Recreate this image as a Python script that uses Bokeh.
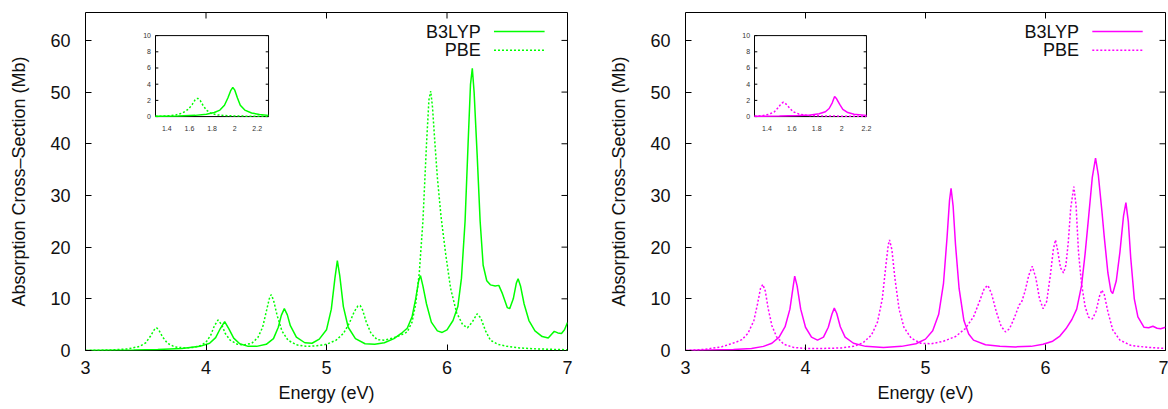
from bokeh.plotting import figure
from bokeh.models import Range1d, FixedTicker
from bokeh.layouts import row
from bokeh.embed import file_html
from bokeh.resources import INLINE
from bokeh.core.properties import value

# ---------------- data ----------------
# Left panel (green)
left_b3lyp_e = [3.00, 3.20, 3.40, 3.60, 3.80, 3.95, 4.03, 4.08, 4.12, 4.155, 4.19, 4.23, 4.28, 4.35, 4.42,
                4.50, 4.56, 4.60, 4.625, 4.65, 4.675, 4.70, 4.75, 4.82, 4.88, 4.94, 5.00, 5.04, 5.07, 5.09,
                5.11, 5.14, 5.18, 5.24, 5.32, 5.40, 5.48, 5.56, 5.62, 5.67, 5.71, 5.74, 5.765, 5.78, 5.80,
                5.83, 5.87, 5.92, 5.96, 6.00, 6.05, 6.09, 6.12, 6.15, 6.175, 6.195, 6.21, 6.225, 6.25, 6.275,
                6.30, 6.33, 6.36, 6.40, 6.43, 6.46, 6.50, 6.52, 6.55, 6.575, 6.59, 6.61, 6.64, 6.68, 6.73,
                6.79, 6.84, 6.87, 6.89, 6.92, 6.95, 6.975, 7.00]
left_b3lyp_i = [0.0, 0.05, 0.1, 0.2, 0.4, 0.8, 1.4, 2.5, 4.3, 5.6, 4.2, 2.4, 1.3, 0.8, 0.8,
                1.2, 2.3, 4.5, 6.8, 8.1, 6.9, 4.8, 2.6, 1.5, 1.4, 2.2, 4.0, 8.0, 14.0, 17.4,
                14.5, 8.5, 4.5, 2.3, 1.3, 1.2, 1.5, 2.3, 3.3, 4.3, 6.5, 10.0, 13.5, 14.5, 12.5,
                9.0, 5.5, 3.8, 3.5, 4.0, 5.8, 8.5, 14.0, 25.0, 40.0, 51.5, 54.6, 50.0, 38.0, 25.0,
                16.5, 13.5, 12.7, 12.5, 12.6, 11.0, 8.3, 8.1, 10.0, 13.0, 13.9, 12.5, 9.0, 5.8, 3.8,
                2.7, 2.4, 3.2, 3.7, 3.4, 3.3, 4.0, 5.4]
left_pbe_e = [3.00, 3.20, 3.35, 3.45, 3.50, 3.54, 3.57, 3.59, 3.61, 3.64, 3.68, 3.74, 3.82, 3.90, 3.96,
              4.00, 4.04, 4.07, 4.10, 4.13, 4.16, 4.20, 4.26, 4.32, 4.38, 4.43, 4.47, 4.50, 4.525, 4.54,
              4.56, 4.59, 4.63, 4.68, 4.75, 4.83, 4.92, 5.00, 5.08, 5.14, 5.19, 5.23, 5.26, 5.28, 5.30,
              5.33, 5.37, 5.42, 5.48, 5.55, 5.62, 5.67, 5.71, 5.74, 5.77, 5.80, 5.83, 5.85, 5.865, 5.88,
              5.90, 5.92, 5.95, 5.99, 6.03, 6.08, 6.13, 6.17, 6.21, 6.25, 6.28, 6.32, 6.36, 6.42, 6.50,
              6.60, 6.75, 7.00]
left_pbe_i = [0.0, 0.1, 0.3, 0.8, 1.5, 2.8, 4.0, 4.4, 3.9, 2.6, 1.4, 0.7, 0.5, 0.6, 1.0,
              1.6, 3.0, 4.8, 5.9, 5.0, 3.3, 2.0, 1.2, 1.1, 1.4, 2.5, 4.5, 7.5, 10.0, 10.8,
              9.8, 6.8, 3.8, 2.0, 1.1, 0.8, 0.9, 1.2, 2.0, 3.3, 5.3, 7.5, 8.6, 8.7, 7.8,
              5.5, 3.3, 2.1, 2.0, 2.4, 3.0, 3.6, 5.5, 9.0, 15.0, 25.0, 40.0, 48.5, 50.2, 47.0,
              40.0, 33.5, 26.0, 18.5, 12.0, 7.3, 5.0, 4.4, 5.5, 7.1, 6.3, 3.8, 2.0, 1.2, 0.8,
              0.5, 0.3, 0.15]

# Right panel (magenta)
right_b3lyp_e = [3.00, 3.20, 3.40, 3.55, 3.65, 3.72, 3.78, 3.83, 3.87, 3.895, 3.91, 3.93, 3.96, 4.00, 4.05,
                 4.10, 4.15, 4.19, 4.22, 4.24, 4.26, 4.29, 4.33, 4.40, 4.50, 4.65, 4.80, 4.92, 5.00, 5.06,
                 5.11, 5.15, 5.18, 5.20, 5.213, 5.23, 5.25, 5.28, 5.32, 5.36, 5.40, 5.50, 5.62, 5.75, 5.88,
                 5.98, 6.06, 6.12, 6.17, 6.22, 6.26, 6.30, 6.33, 6.36, 6.39, 6.417, 6.44, 6.47, 6.49, 6.52,
                 6.545, 6.56, 6.59, 6.62, 6.65, 6.67, 6.69, 6.71, 6.74, 6.77, 6.82, 6.86, 6.895, 6.93, 6.96,
                 7.00]
right_b3lyp_i = [0.0, 0.1, 0.2, 0.4, 0.8, 1.4, 2.6, 4.6, 8.0, 12.0, 14.4, 12.5, 8.0, 4.5, 2.6,
                 2.0, 2.6, 4.5, 7.0, 8.2, 7.2, 4.6, 2.6, 1.4, 0.8, 0.6, 0.8, 1.3, 2.2, 3.8,
                 7.0, 13.0, 22.0, 29.0, 31.4, 28.0, 20.5, 12.0, 5.8, 3.2, 2.0, 1.1, 0.8, 0.7, 0.8,
                 1.2, 1.8, 2.8, 4.2, 6.0, 8.0, 12.5, 18.7, 26.0, 33.5, 37.2, 34.0, 27.0, 21.9, 15.0,
                 11.5, 11.0, 13.5, 19.0, 26.0, 28.6, 25.0, 18.0, 10.0, 6.5, 4.5, 4.4, 4.7, 4.3, 4.2,
                 4.5]
right_pbe_e = [3.00, 3.15, 3.30, 3.38, 3.42, 3.47, 3.52, 3.57, 3.60, 3.625, 3.644, 3.665, 3.69, 3.72, 3.76,
               3.82, 3.90, 4.00, 4.15, 4.30, 4.40, 4.48, 4.55, 4.60, 4.64, 4.67, 4.69, 4.70, 4.72, 4.745,
               4.78, 4.82, 4.88, 4.96, 5.05, 5.15, 5.25, 5.33, 5.40, 5.45, 5.49, 5.52, 5.55, 5.59, 5.63,
               5.667, 5.70, 5.74, 5.78, 5.80, 5.83, 5.86, 5.89, 5.92, 5.95, 5.98, 6.01, 6.04, 6.065, 6.083,
               6.10, 6.125, 6.15, 6.17, 6.19, 6.21, 6.236, 6.255, 6.275, 6.30, 6.33, 6.36, 6.39, 6.42, 6.45,
               6.47, 6.49, 6.52, 6.56, 6.62, 6.71, 6.85, 7.00]
right_pbe_i = [0.0, 0.2, 0.7, 1.3, 1.6, 2.1, 3.3, 5.8, 9.0, 12.0, 12.8, 11.5, 8.0, 4.8, 2.6,
               1.2, 0.6, 0.4, 0.4, 0.5, 0.8, 1.5, 3.0, 5.5, 10.0, 16.5, 20.5, 21.4, 19.5, 14.0,
               8.0, 4.5, 2.4, 1.4, 1.3, 1.8, 2.7, 4.2, 6.5, 9.5, 12.0, 12.6, 11.0, 7.5, 4.7,
               3.6, 4.2, 6.3, 8.8, 9.3, 11.5, 14.5, 16.3, 14.0, 10.0, 8.1, 9.5, 14.5, 19.5, 21.4,
               19.5, 16.0, 15.0, 16.5, 21.0, 27.5, 31.7, 28.0, 19.0, 13.0, 8.5, 6.4, 6.1, 7.5, 10.5,
               11.7, 10.8, 7.5, 4.0, 2.0, 1.0, 0.6, 0.4]

# Insets
left_inset_b3lyp_e = [1.30, 1.50, 1.65, 1.75, 1.82, 1.87, 1.91, 1.94, 1.965, 1.984, 2.00, 2.025, 2.05, 2.09, 2.15, 2.22, 2.30]
left_inset_b3lyp_i = [0.05, 0.08, 0.15, 0.3, 0.5, 0.8, 1.4, 2.3, 3.2, 3.6, 3.3, 2.3, 1.4, 0.8, 0.45, 0.25, 0.15]
left_inset_pbe_e = [1.30, 1.40, 1.48, 1.54, 1.59, 1.625, 1.65, 1.673, 1.695, 1.72, 1.75, 1.79, 1.85, 1.95, 2.10, 2.30]
left_inset_pbe_i = [0.03, 0.08, 0.2, 0.45, 0.9, 1.5, 2.05, 2.26, 2.0, 1.4, 0.8, 0.4, 0.2, 0.1, 0.05, 0.03]
right_inset_b3lyp_e = [1.30, 1.50, 1.65, 1.75, 1.82, 1.87, 1.90, 1.925, 1.944, 1.96, 1.985, 2.01, 2.05, 2.10, 2.20]
right_inset_b3lyp_i = [0.03, 0.06, 0.12, 0.2, 0.35, 0.6, 1.0, 1.7, 2.47, 2.2, 1.5, 0.9, 0.5, 0.3, 0.15]
right_inset_pbe_e = [1.30, 1.36, 1.42, 1.46, 1.49, 1.515, 1.532, 1.55, 1.58, 1.61, 1.66, 1.72, 1.85, 2.00, 2.20]
right_inset_pbe_i = [0.05, 0.1, 0.3, 0.6, 1.1, 1.6, 1.77, 1.6, 1.1, 0.6, 0.3, 0.15, 0.08, 0.05, 0.03]

x_ticks = [3, 4, 5, 6, 7]
y_ticks = [0, 10, 20, 30, 40, 50, 60]
inset_x_ticks = [1.4, 1.6, 1.8, 2.0, 2.2]
inset_x_labels = ["1.4", "1.6", "1.8", "2", "2.2"]
inset_y_ticks = [0, 2, 4, 6, 8, 10]
inset_y_labels = ["0", "2", "4", "6", "8", "10"]
legend_labels = ["B3LYP", "PBE"]

FONT = "Liberation Sans"
GREEN = "#00ff00"
MAGENTA = "#ff00ff"
X0, X1, Y0, Y1 = 3, 7, 0, 65.4


def make_panel(color, b3_e, b3_i, pbe_e, pbe_i, ib3_e, ib3_i, ipbe_e, ipbe_i,
               width, border_left, border_right, inset_x_end, inset_target_x):
    p = figure(width=width, height=409, x_range=Range1d(X0, X1), y_range=Range1d(Y0, Y1),
               output_backend="svg", toolbar_location=None,
               min_border_left=border_left, min_border_right=border_right,
               min_border_top=12, min_border_bottom=59)
    p.grid.visible = False
    p.outline_line_color = "black"
    p.outline_line_width = 1
    p.background_fill_color = "white"
    p.border_fill_color = "white"

    for ax in (p.xaxis[0], p.yaxis[0]):
        ax.axis_line_color = None
        ax.major_tick_in = 6
        ax.major_tick_out = 0
        ax.minor_tick_in = 0
        ax.minor_tick_out = 0
        ax.major_tick_line_color = "black"
        ax.major_label_text_font = FONT
        ax.major_label_text_font_size = "18px"
        ax.major_label_text_color = "#111111"
        ax.axis_label_text_font = FONT
        ax.axis_label_text_font_size = "18px"
        ax.axis_label_text_font_style = "normal"
        ax.axis_label_text_color = "#111111"
    p.xaxis[0].ticker = FixedTicker(ticks=x_ticks)
    p.yaxis[0].ticker = FixedTicker(ticks=y_ticks)
    p.xaxis[0].axis_label = "Energy (eV)"
    p.yaxis[0].axis_label = "Absorption Cross\u2013Section (Mb)"
    p.xaxis[0].major_label_standoff = 10
    p.xaxis[0].axis_label_standoff = 6
    p.yaxis[0].major_label_standoff = 15
    p.yaxis[0].axis_label_standoff = 18

    # mirrored inward ticks on top and right edges
    tx = (X1 - X0) * 6 / 482
    ty = (Y1 - Y0) * 6 / 338
    p.segment(x0=x_ticks, y0=[Y1] * len(x_ticks), x1=x_ticks, y1=[Y1 - ty] * len(x_ticks),
              line_color="black", line_width=1)
    p.segment(x0=[X1] * len(y_ticks), y0=y_ticks, x1=[X1 - tx] * len(y_ticks), y1=y_ticks,
              line_color="black", line_width=1)

    # main curves
    p.line(b3_e, b3_i, line_color=color, line_width=1.5)
    p.line(pbe_e, pbe_i, line_color=color, line_width=1.5, line_dash="2 2")

    # legend (gnuplot style: text then sample)
    ly = [61.7, 58.1]
    p.text(x=[6.28, 6.28], y=ly, text=legend_labels, text_align="right", text_baseline="middle",
           text_font=value(FONT), text_font_size="18px", text_color="#111111")
    p.segment(x0=[6.39], y0=[ly[0]], x1=[6.81], y1=[ly[0]], line_color=color, line_width=1.5)
    p.segment(x0=[6.39], y0=[ly[1]], x1=[6.81], y1=[ly[1]], line_color=color, line_width=1.5,
              line_dash="2 2")

    # inset
    xs = Range1d(1.3, inset_x_end)
    ys = Range1d(0, 10)
    sub = p.subplot(x_source=xs, y_source=ys,
                    x_target=Range1d(*inset_target_x), y_target=Range1d(45.26, 60.93))
    sub.quad(left=[xs.start], right=[xs.end], bottom=[ys.start], top=[ys.end],
             fill_color="white", line_color="black", line_width=1)
    span = xs.end - xs.start
    tk = span * 0.025
    sub.segment(x0=[xs.start] * len(inset_y_ticks), y0=inset_y_ticks,
                x1=[xs.start + tk] * len(inset_y_ticks), y1=inset_y_ticks,
                line_color="black", line_width=1)
    sub.segment(x0=[xs.end] * len(inset_y_ticks), y0=inset_y_ticks,
                x1=[xs.end - tk] * len(inset_y_ticks), y1=inset_y_ticks,
                line_color="black", line_width=1)
    sub.text(x=[xs.start - span * 0.04] * len(inset_y_ticks), y=inset_y_ticks, text=inset_y_labels,
             text_align="right", text_baseline="middle", text_font=value(FONT),
             text_font_size="7px", text_color="#333333")
    sub.text(x=inset_x_ticks, y=[-1.2] * len(inset_x_ticks), text=inset_x_labels,
             text_align="center", text_baseline="top", text_font=value(FONT),
             text_font_size="7px", text_color="#333333")
    sub.line(ib3_e, ib3_i, line_color=color, line_width=1.5)
    sub.line(ipbe_e, ipbe_i, line_color=color, line_width=1.5, line_dash="2 2")
    return p


p1 = make_panel(GREEN, left_b3lyp_e, left_b3lyp_i, left_pbe_e, left_pbe_i,
                left_inset_b3lyp_e, left_inset_b3lyp_i, left_inset_pbe_e, left_inset_pbe_i,
                width=600, border_left=85, border_right=33, inset_x_end=2.3,
                inset_target_x=(3.581, 4.519))
p2 = make_panel(MAGENTA, right_b3lyp_e, right_b3lyp_i, right_pbe_e, right_pbe_i,
                right_inset_b3lyp_e, right_inset_b3lyp_i, right_inset_pbe_e, right_inset_pbe_i,
                width=568, border_left=85, border_right=3, inset_x_end=2.2,
                inset_target_x=(3.575, 4.508))

layout = row(p1, p2)
open("out.html", "w").write(file_html(layout, INLINE))
